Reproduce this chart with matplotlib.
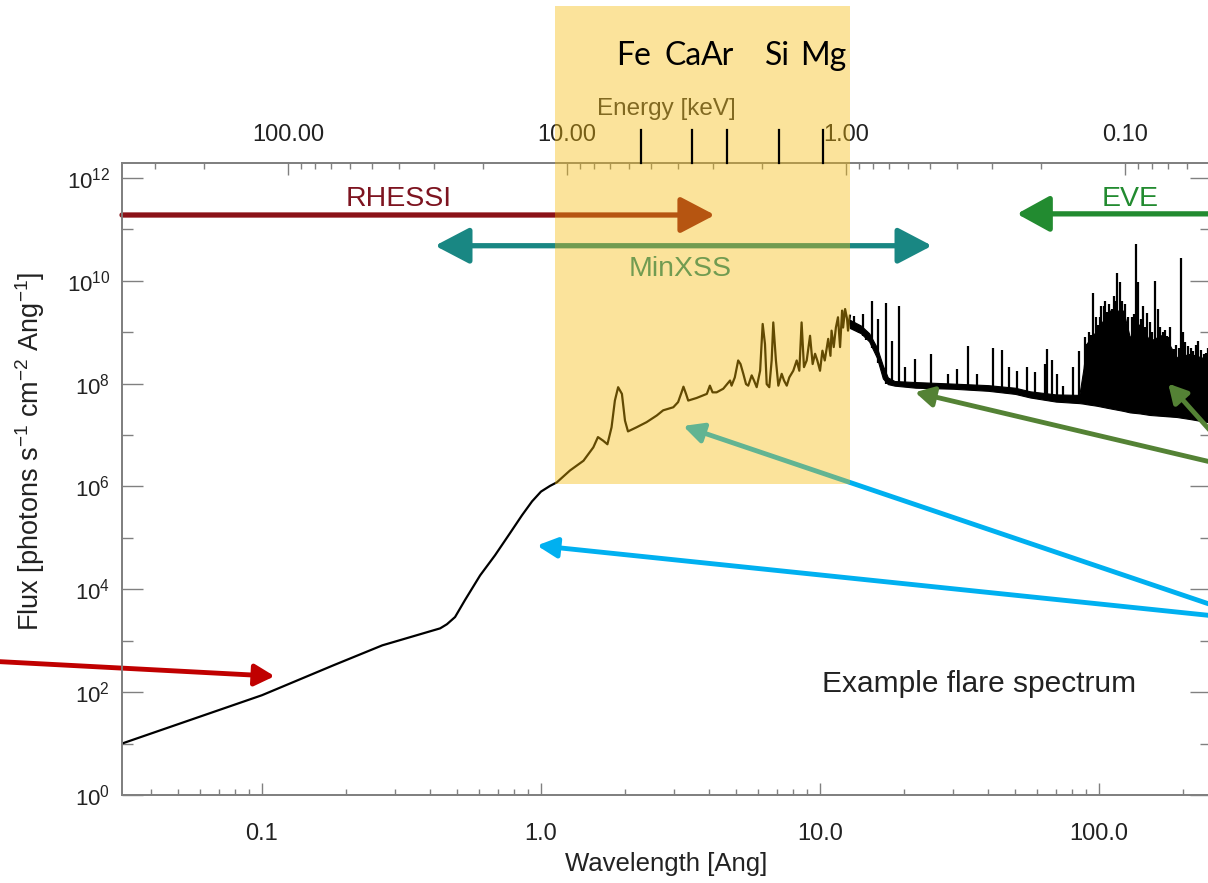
import numpy as np
import matplotlib.pyplot as plt
from matplotlib.patches import Rectangle
from matplotlib.lines import Line2D
from matplotlib.ticker import FixedLocator, NullFormatter, FormatStrFormatter, LogLocator, FuncFormatter

plt.rcParams['font.family'] = ['Liberation Sans', 'DejaVu Sans']
plt.rcParams['mathtext.default'] = 'regular'

# ---------------- data (wavelength in Ang, log10 of flux) ----------------
# hard X-ray continuum (smooth part)
hxr_wl = [0.0315, 0.1, 0.18, 0.27, 0.312, 0.435, 0.46, 0.492, 0.534, 0.605, 0.684,
          0.774, 0.855, 0.929, 1.0, 1.077, 1.14]
hxr_logf = [1.0, 1.94, 2.52, 2.91, 3.01, 3.24, 3.32, 3.46, 3.79, 4.27, 4.66,
            5.09, 5.44, 5.71, 5.90, 6.01, 6.08]

# soft X-ray part (MinXSS range) with its lines
sxr_wl = [1.27, 1.42, 1.54, 1.60, 1.67, 1.73, 1.79, 1.84, 1.89, 1.95, 2.00, 2.05,
          2.20, 2.39, 2.60, 2.74, 2.98, 3.10, 3.19, 3.24, 3.31, 3.37, 3.61, 3.93,
          4.03, 4.12, 4.26, 4.50, 4.76, 4.82, 4.95, 5.09, 5.19, 5.31, 5.43, 5.53,
          5.69, 5.80, 5.93, 6.10, 6.23, 6.35, 6.44, 6.58, 6.71, 6.80, 6.95, 7.09,
          7.29, 7.43, 7.60, 7.76, 8.02, 8.25, 8.43, 8.59, 8.76, 8.96, 9.21, 9.41,
          9.60, 9.78, 10.0, 10.2, 10.4, 10.7, 10.9, 11.0, 11.2, 11.4, 11.6, 11.8,
          12.0, 12.1, 12.3, 12.5, 12.6, 12.8]
sxr_logf = [6.31, 6.50, 6.76, 6.96, 6.89, 6.82, 7.15, 7.67, 7.93, 7.80, 7.28, 7.07,
            7.15, 7.25, 7.38, 7.48, 7.54, 7.64, 7.83, 7.94, 7.80, 7.67, 7.72, 7.80,
            7.96, 7.83, 7.83, 7.90, 8.06, 7.96, 8.12, 8.45, 8.38, 8.19, 7.99, 7.96,
            8.16, 8.06, 7.93, 8.25, 9.16, 8.77, 7.99, 7.93, 8.45, 9.19, 8.45, 7.96,
            8.19, 8.06, 7.96, 8.12, 8.25, 8.45, 8.25, 9.19, 8.32, 8.45, 8.93, 8.38,
            8.58, 8.45, 8.25, 8.64, 8.45, 8.87, 8.54, 9.03, 8.71, 9.09, 9.29, 8.71,
            9.42, 9.09, 9.45, 9.26, 9.03, 9.32]

# EUV pseudo-continuum band (EVE range), lower / upper edge
band_wl = [12.8, 14.0, 15.0, 16.0, 16.8, 17.5, 18.5, 22.0, 30.0, 40.0, 50.0, 56.6,
           70.0, 85.0, 88.0, 90.0, 98.0, 109.0, 122.0, 129.0, 140.0, 152.0, 170.0,
           190.0, 212.0, 252.0]
band_lo = [9.08, 8.98, 8.82, 8.50, 8.10, 7.99, 7.96, 7.92, 7.90, 7.86, 7.80, 7.73,
           7.65, 7.62, 7.61, 7.60, 7.57, 7.52, 7.47, 7.44, 7.42, 7.39, 7.37, 7.35,
           7.31, 7.24]
band_hi = [9.24, 9.13, 8.98, 8.70, 8.35, 8.12, 8.05, 8.03, 8.00, 7.97, 7.92, 7.85,
           7.79, 7.78, 8.30, 8.77, 9.03, 9.42, 9.42, 8.90, 9.16, 8.83, 8.96, 8.51,
           8.58, 8.45]

# EUV emission lines
line_wl = [13.2, 13.8, 14.3, 14.6, 15.3, 16.2, 17.2, 18.1, 19.2, 20.2, 21.9, 25.0,
           28.8, 30.9, 34.0, 36.5, 41.6, 44.8, 47.4, 50.7, 55.1,
           59.0, 64.0, 65.3, 67.7, 70.5, 74.5, 80.9, 85.1, 89.0, 90.3, 92.0, 93.5,
           95.4, 97.5, 99.5, 101.0, 102.0, 104.0, 105.0, 107.0, 109.0, 111.0, 113.0,
           114.0, 116.0, 119.0, 121.0, 124.0, 127.0, 131.0, 133.0, 136.0, 138.0,
           141.0, 144.0, 146.0, 148.0, 152.0, 155.0, 159.0, 163.0, 166.0, 169.0,
           172.0, 175.0, 178.0, 180.0, 185.0, 188.0, 193.0, 196.0, 200.0, 203.0,
           209.0, 214.0, 218.0, 223.0, 227.0, 232.0, 237.0, 241.0, 245.0, 250.0]
line_base = [9.05, 8.98, 8.92, 8.85, 8.70, 8.40, 8.00, 7.97, 7.95, 7.95, 7.93, 7.92,
             7.91, 7.90, 7.89, 7.88, 7.85, 7.83, 7.81, 7.80, 7.75,
             7.71, 7.69, 7.68, 7.67, 7.65, 7.64, 7.63, 7.62, 7.61, 7.60, 7.59, 7.59,
             7.58, 7.57, 7.57, 7.56, 7.56, 7.55, 7.55, 7.54, 7.53, 7.52, 7.51,
             7.51, 7.50, 7.49, 7.48, 7.47, 7.46, 7.44, 7.44, 7.43, 7.42,
             7.42, 7.41, 7.40, 7.40, 7.39, 7.39, 7.38, 7.38, 7.37, 7.37,
             7.37, 7.36, 7.36, 7.35, 7.35, 7.35, 7.35, 7.34, 7.34, 7.33,
             7.32, 7.31, 7.30, 7.29, 7.29, 7.28, 7.27, 7.26, 7.25, 7.24]
line_peak = [9.32, 9.13, 9.35, 9.03, 9.61, 9.26, 9.56, 8.83, 9.51, 8.32, 8.48, 8.58,
             8.19, 8.28, 8.74, 8.19, 8.69, 8.65, 8.32, 8.25, 8.32,
             8.22, 8.38, 8.67, 8.45, 8.19, 7.96, 8.32, 8.64, 8.90, 8.77, 9.00, 8.95,
             9.77, 9.30, 9.13, 9.30, 9.51, 9.50, 9.61, 9.40, 9.55, 9.45, 9.70,
             9.60, 10.16, 9.97, 9.60, 9.55, 9.30, 9.29, 9.35, 10.72, 9.97,
             9.25, 9.51, 9.10, 9.38, 9.20, 9.00, 10.0, 9.45, 9.10, 9.00,
             9.05, 8.93, 8.90, 9.10, 8.67, 8.75, 8.70, 10.45, 9.00, 8.80,
             8.74, 8.70, 8.64, 8.75, 8.83, 8.65, 8.58, 8.60, 8.70, 8.55]

# instrument ranges (Ang) and arrow heights (flux)
rhessi_range = (0.0315, 4.2)
rhessi_y = 1.9e11
minxss_range = (0.417, 25.2)
minxss_y = 4.8e10
eve_range = (50.8, 320.0)
eve_y = 2.0e11
highlight_wl = (1.122, 12.81)
highlight_flux_bottom = 1.1e6

# element line markers (Ang)
elem_names = ['Fe', 'Ca', 'Ar', 'Si', 'Mg']
elem_tick_wl = [2.29, 3.48, 4.64, 7.13, 10.25]
elem_label_wl = [2.14, 3.23, 4.29, 7.02, 10.3]

# pointer arrow targets (Ang, flux)
pointer_red = (0.111, 204.0)
pointer_cyan = [(0.967, 7.1e4), (3.23, 1.5e7)]
pointer_green = [(21.9, 6.8e7), (177.0, 1.0e8)]

hc = 12.398  # keV * Ang

# ---------------- figure ----------------
fig = plt.figure(figsize=(12.08, 8.83), dpi=100)
ax = fig.add_axes([0.101, 0.0997, 0.9015, 0.7157])
ax.set_xscale('log')
ax.set_yscale('log')
ax.set_xlim(0.0315, 252)
ax.set_ylim(1, 1.95e12)

spec_wl = hxr_wl + sxr_wl
spec_f = 10.0 ** np.array(hxr_logf + sxr_logf)
ax.plot(spec_wl, spec_f, color='black', lw=1.6, zorder=2)
ax.fill_between(band_wl, 10.0 ** np.array(band_lo), 10.0 ** np.array(band_hi),
                color='black', lw=0.8, zorder=2)
ax.vlines(line_wl, 10.0 ** np.array(line_base), 10.0 ** np.array(line_peak),
          color='black', lw=1.6, zorder=2)

gray = '#808080'
for s in ax.spines.values():
    s.set_color(gray)
    s.set_linewidth(1.3)

ax.xaxis.set_major_locator(FixedLocator([0.1, 1, 10, 100]))
ax.xaxis.set_major_formatter(FormatStrFormatter('%.1f'))
ax.xaxis.set_minor_locator(LogLocator(subs=np.arange(2, 10)))
ax.xaxis.set_minor_formatter(NullFormatter())
ax.yaxis.set_major_locator(FixedLocator(10.0 ** np.arange(0, 13, 2)))
ax.yaxis.set_minor_locator(FixedLocator(10.0 ** np.arange(1, 12, 2)))
ax.yaxis.set_major_formatter(FuncFormatter(lambda v, p: r'$10^{%d}$' % round(np.log10(v))))
ax.yaxis.set_minor_formatter(NullFormatter())

ax.tick_params(which='both', direction='in', color=gray, top=False, right=True,
               labelcolor='#222222')
ax.tick_params(axis='x', which='major', length=8.5, width=1.0, labelsize=17, pad=20)
ax.tick_params(axis='x', which='minor', length=4.3, width=1.0)
ax.tick_params(axis='y', which='major', length=15, width=1.0, labelsize=16, pad=8.5)
ax.tick_params(axis='y', which='minor', length=8, width=1.0)

ax.set_xlabel('Wavelength [Ang]', fontsize=18.5, color='#222222', labelpad=5)
ax.set_ylabel(r'Flux [photons s$^{-1}$ cm$^{-2}$ Ang$^{-1}$]', fontsize=19.5, color='#222222')
ax.yaxis.set_label_coords(-0.069, 0.543)

# energy axis on top
ax2 = ax.twiny()
ax2.set_xscale('log')
ax2.set_xlim(hc / 0.0315, hc / 252)
ax2.xaxis.set_major_locator(FixedLocator([100, 10, 1, 0.1]))
ax2.xaxis.set_major_formatter(FormatStrFormatter('%.2f'))
ax2.xaxis.set_minor_locator(LogLocator(subs=np.arange(2, 10)))
ax2.xaxis.set_minor_formatter(NullFormatter())
ax2.tick_params(which='both', direction='in', color=gray, labelcolor='#222222')
ax2.tick_params(which='major', length=8.5, width=1.0, labelsize=17, pad=12.5)
ax2.tick_params(which='minor', length=4.3, width=1.0)
ax2.set_xlabel('Energy [keV]', fontsize=17.5, color='#333333', labelpad=6)
for s in ax2.spines.values():
    s.set_color(gray)
    s.set_linewidth(1.3)

# instrument range arrows
ax.annotate('', xy=(rhessi_range[1], rhessi_y), xytext=(rhessi_range[0], rhessi_y),
            arrowprops=dict(arrowstyle='-|>,head_length=21,head_width=11', mutation_scale=1,
                            lw=3.8, color='#8B1218', shrinkA=0, shrinkB=0),
            annotation_clip=False)
ax.annotate('', xy=(minxss_range[1], minxss_y), xytext=(minxss_range[0], minxss_y),
            arrowprops=dict(arrowstyle='<|-|>,head_length=21,head_width=11', mutation_scale=1,
                            lw=3.8, color='#198783', shrinkA=0, shrinkB=0),
            annotation_clip=False)
ax.annotate('', xy=(eve_range[0], eve_y), xytext=(eve_range[1], eve_y),
            arrowprops=dict(arrowstyle='-|>,head_length=20,head_width=11', mutation_scale=1,
                            lw=3.8, color='#228B30', shrinkA=0, shrinkB=0),
            annotation_clip=False)
ax.text(0.31, 10 ** 11.456, 'RHESSI', color='#7D1420', fontsize=20.5, ha='center', va='baseline')
ax.text(3.15, 10 ** 10.10, 'MinXSS', color='#198783', fontsize=20.5, ha='center', va='baseline')
ax.text(129, 10 ** 11.456, 'EVE', color='#228B30', fontsize=20.5, ha='center', va='baseline')
ax.text(10.2, 100, 'Example flare spectrum', color='#222222', fontsize=21.5, ha='left', va='baseline')

# pointer arrows coming from outside the picture
def pointer(target, tail_px, color, hl, hw):
    ax.annotate('', xy=target, xycoords='data', xytext=tail_px, textcoords='figure pixels',
                arrowprops=dict(arrowstyle='-|>,head_length=%g,head_width=%g' % (hl, hw),
                                mutation_scale=1, lw=3.5, color=color, shrinkA=0, shrinkB=0),
                annotation_clip=False)

pointer(pointer_red, (-5, 221.6), '#C00000', 12, 6.5)
pointer(pointer_cyan[0], (1215, 267), '#00B0F0', 12, 6)
pointer(pointer_cyan[1], (1215, 277), '#00B0F0', 12, 6)
pointer(pointer_green[0], (1215, 420), '#548235', 11, 6)
pointer(pointer_green[1], (1215, 447), '#548235', 11, 6)

# translucent highlight of the MinXSS band
rect = Rectangle((highlight_wl[0], highlight_flux_bottom), highlight_wl[1] - highlight_wl[0], 2.2e15,
                 transform=ax.transData, facecolor=(247 / 255, 187 / 255, 7 / 255), alpha=0.4,
                 lw=0, clip_on=False, zorder=3)
fig.add_artist(rect)

# element markers on top
xt = ax.get_xaxis_transform()
for wl in elem_tick_wl:
    fig.add_artist(Line2D([wl, wl], [1.0, 1.052], transform=xt, color='black', lw=1.6,
                          clip_on=False, zorder=4))
for name, wl in zip(elem_names, elem_label_wl):
    fig.text(wl, 1.155, name, transform=xt, ha='center', va='baseline', fontsize=23,
             family=['Lato', 'DejaVu Sans'], color='black', zorder=4)

fig.savefig('out.png', dpi=100)
